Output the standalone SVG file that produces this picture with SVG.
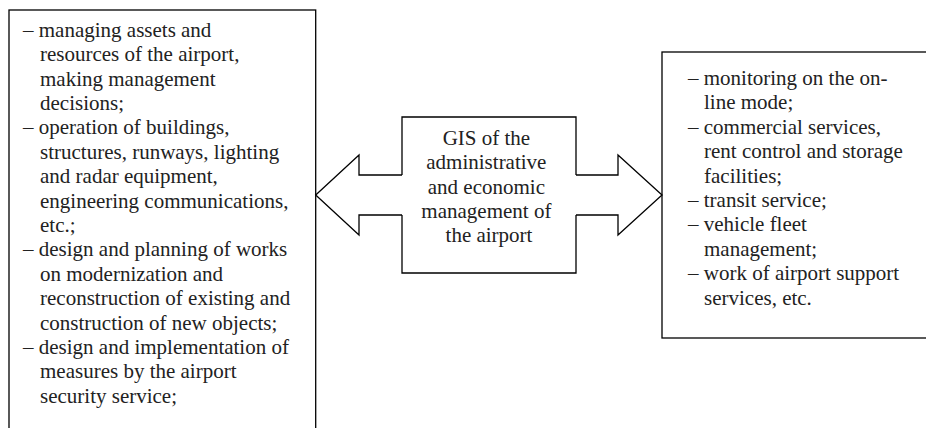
<svg xmlns="http://www.w3.org/2000/svg" width="926" height="428" viewBox="0 0 926 428">
<style>
.box{fill:#fff;stroke:#000;stroke-width:1.3}
.ln{fill:none;stroke:#000;stroke-width:1.3;stroke-linejoin:miter}
.t{font-family:"Liberation Serif","Times New Roman",serif;font-size:21px;fill:#222}
.c{text-anchor:middle}
</style>
<rect width="926" height="428" fill="#fff"/>
<g id="left-list">
<rect class="box" x="9" y="10" width="306.7" height="440"/>
<text class="t">
<tspan x="23" y="36.7">– managing assets and</tspan>
<tspan x="40" y="61.1">resources of the airport,</tspan>
<tspan x="40" y="85.5">making management</tspan>
<tspan x="40" y="109.9">decisions;</tspan>
<tspan x="23" y="134.3">– operation of buildings,</tspan>
<tspan x="40" y="158.7">structures, runways, lighting</tspan>
<tspan x="40" y="183.1">and radar equipment,</tspan>
<tspan x="40" y="207.5">engineering communications,</tspan>
<tspan x="40" y="231.9">etc.;</tspan>
<tspan x="23" y="256.3">– design and planning of works</tspan>
<tspan x="40" y="280.7">on modernization and</tspan>
<tspan x="40" y="305.1">reconstruction of existing and</tspan>
<tspan x="40" y="329.5">construction of new objects;</tspan>
<tspan x="23" y="353.9">– design and implementation of</tspan>
<tspan x="40" y="378.3">measures by the airport</tspan>
<tspan x="40" y="402.7">security service;</tspan>
</text>
</g>
<g id="right-list">
<rect class="box" x="662" y="52" width="280" height="286"/>
<text class="t">
<tspan x="688" y="85">– monitoring on the on-</tspan>
<tspan x="704" y="109.4">line mode;</tspan>
<tspan x="688" y="133.8">– commercial services,</tspan>
<tspan x="704" y="158.2">rent control and storage</tspan>
<tspan x="704" y="182.6">facilities;</tspan>
<tspan x="688" y="207">– transit service;</tspan>
<tspan x="688" y="231.4">– vehicle fleet</tspan>
<tspan x="704" y="255.8">management;</tspan>
<tspan x="688" y="280.2">– work of airport support</tspan>
<tspan x="704" y="304.6">services, etc.</tspan>
</text>
</g>
<g id="connectors">
<path class="ln" d="M402,175 L359,175 L359,155 L315.7,195 L359,235 L359,215 L402,215"/>
<path class="ln" d="M576,175 L618,175 L618,155 L662,195 L618,235 L618,215 L576,215"/>
</g>
<g id="gis">
<path class="ln" d="M402,175 L402,117 L576,117 L576,175 M576,215 L576,273 L402,273 L402,215"/>
<text class="t c">
<tspan x="489" y="145">GIS of the</tspan>
<tspan x="489" y="169.3">administrative</tspan>
<tspan x="489" y="193.6">and economic</tspan>
<tspan x="489" y="217.9">management of</tspan>
<tspan x="489" y="242.2">the airport</tspan>
</text>
</g>
</svg>
